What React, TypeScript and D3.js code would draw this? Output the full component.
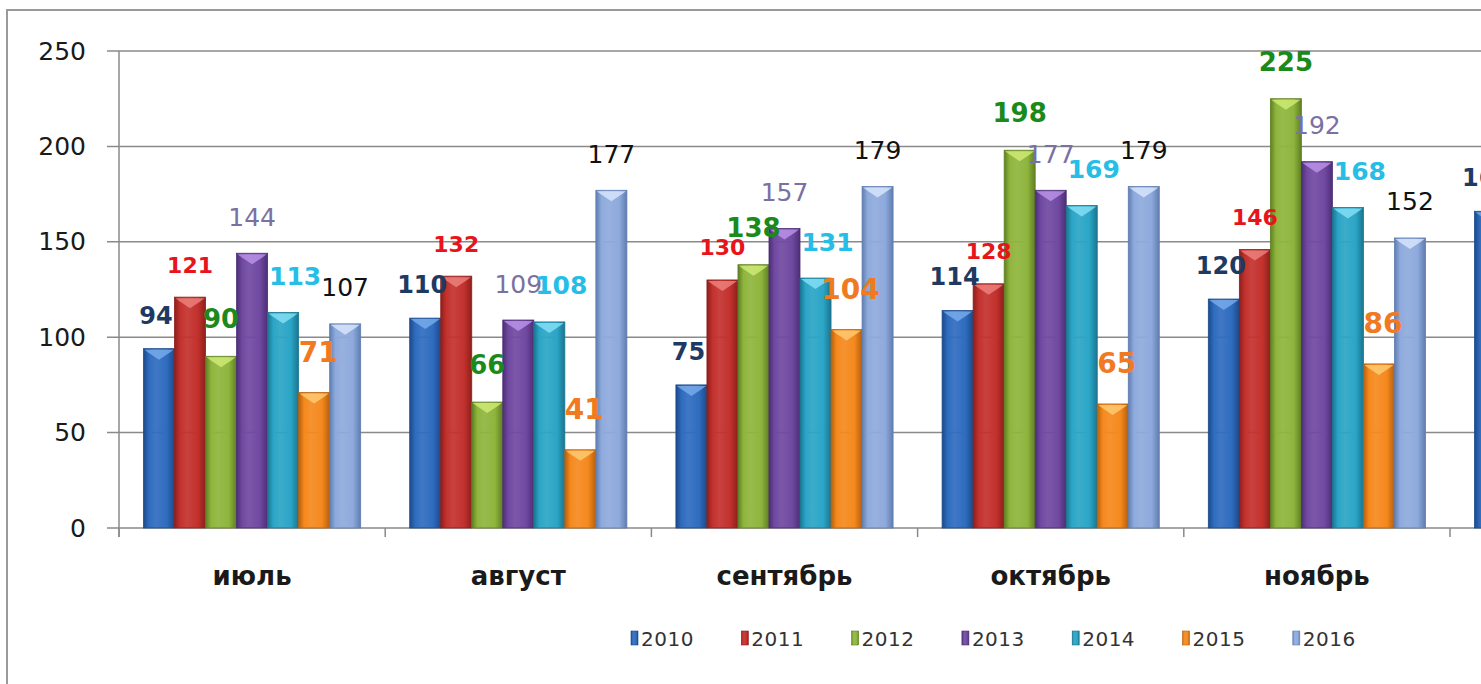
import * as d3 from "d3";

// months along the x axis (the last one is cut off by the frame)
const categories = ["июль", "август", "сентябрь", "октябрь", "ноябрь", "декабрь"];
const years = ["2010", "2011", "2012", "2013", "2014", "2015", "2016"];

const v2010 = [94, 110, 75, 114, 120, 166];
const v2011 = [121, 132, 130, 128, 146, null];
const v2012 = [90, 66, 138, 198, 225, null];
const v2013 = [144, 109, 157, 177, 192, null];
const v2014 = [113, 108, 131, 169, 168, null];
const v2015 = [71, 41, 104, 65, 86, null];
const v2016 = [107, 177, 179, 179, 152, null];

const yTicks = [0, 50, 100, 150, 200, 250];

const seriesValues: (number | null)[][] = [v2010, v2011, v2012, v2013, v2014, v2015, v2016];

// look of each series: bar colour, label colour / font, label offset from bar top
const seriesStyle = [
  { bar: "#2f6cbf", dark: "#1c4a8a", light: "#7fb2f0", label: "#1f3a62", weight: 700, size: 24, dx: -3, dy: -33 },
  { bar: "#c3312d", dark: "#8c1f1c", light: "#f08a86", label: "#e8141c", weight: 700, size: 22, dx: 0, dy: -32 },
  { bar: "#8fb53d", dark: "#5f7f22", light: "#d6f07a", label: "#1a8a1a", weight: 700, size: 26, dx: 0, dy: -37 },
  { bar: "#7049a1", dark: "#4c2e75", light: "#c39af0", label: "#7a70a2", weight: 400, size: 25, dx: 0, dy: -36 },
  { bar: "#2ba5c6", dark: "#1a7590", light: "#8de6fa", label: "#26bde6", weight: 700, size: 25, dx: 12, dy: -36 },
  { bar: "#f5891e", dark: "#b8600c", light: "#ffd27a", label: "#f07a22", weight: 700, size: 28, dx: 4, dy: -40 },
  { bar: "#8eaadc", dark: "#5f7db0", light: "#e0ecff", label: "#111111", weight: 400, size: 25, dx: 0, dy: -36 },
];

const W = 1481;
const H = 684;
const FONT = "'DejaVu Sans', Verdana, sans-serif";

export default function App() {
  const x0 = d3
    .scaleBand<string>()
    .domain(categories)
    .range([119, 119 + 266.2 * categories.length])
    .paddingInner(0)
    .paddingOuter(0);
  const x1 = d3
    .scaleBand<string>()
    .domain(years)
    .range([0, x0.bandwidth()])
    .paddingInner(0)
    .paddingOuter(0.79);
  const y = d3.scaleLinear().domain([0, 250]).range([528, 51]);

  const bw = x1.bandwidth();
  const tickXs = categories.map((c) => x0(c) as number);

  return (
    <svg
      width={W}
      height={H}
      style={{ position: "absolute", left: 0, top: 0, background: "#fff" }}
      fontFamily={FONT}
    >
      <defs>
        {seriesStyle.map((s, i) => (
          <linearGradient key={i} id={`g${i}`} x1="0" x2="1" y1="0" y2="0">
            <stop offset="0%" stopColor={s.dark} />
            <stop offset="18%" stopColor={s.bar} />
            <stop offset="40%" stopColor={s.bar} stopOpacity={0.92} />
            <stop offset="75%" stopColor={s.bar} />
            <stop offset="100%" stopColor={s.dark} />
          </linearGradient>
        ))}
      </defs>

      {/* outer frame */}
      <rect x={7} y={10} width={W + 20} height={H + 20} fill="none" stroke="#9a9a9a" strokeWidth={2} />

      {/* gridlines */}
      {yTicks.map((t) => (
        <line key={t} x1={107} x2={W} y1={y(t)} y2={y(t)} stroke="#8a8a8a" strokeWidth={1.5} />
      ))}
      <line x1={119} x2={119} y1={y(250)} y2={537} stroke="#8a8a8a" strokeWidth={1.5} />
      {tickXs.map((tx, i) => (
        <line key={i} x1={tx} x2={tx} y1={528} y2={537} stroke="#8a8a8a" strokeWidth={1.5} />
      ))}

      {/* y tick labels */}
      {yTicks.map((t) => (
        <text
          key={t}
          x={86}
          y={y(t)}
          textAnchor="end"
          dominantBaseline="central"
          fontSize={25}
          fill="#1a1a1a"
        >
          {t}
        </text>
      ))}

      {/* bars */}
      {categories.map((c, ci) =>
        years.map((yr, si) => {
          const v = seriesValues[si][ci];
          if (v == null) return null;
          const bx = (x0(c) as number) + (x1(yr) as number);
          const top = y(v);
          const s = seriesStyle[si];
          return (
            <g key={`${c}-${yr}`}>
              <rect
                x={bx}
                y={top}
                width={bw}
                height={y(0) - top}
                fill={`url(#g${si})`}
                stroke={s.dark}
                strokeWidth={0.8}
              />
              <path
                d={`M${bx + 1},${top + 1} L${bx + bw - 1},${top + 1} L${bx + bw - 5},${top + 4} L${bx + bw / 2},${top + 11} L${bx + 5},${top + 4} Z`}
                fill={s.light}
                opacity={0.75}
              />
            </g>
          );
        })
      )}

      {/* data labels */}
      {categories.map((c, ci) =>
        years.map((yr, si) => {
          const v = seriesValues[si][ci];
          if (v == null) return null;
          const s = seriesStyle[si];
          const cx = (x0(c) as number) + (x1(yr) as number) + bw / 2;
          return (
            <text
              key={`l-${c}-${yr}`}
              x={cx + s.dx}
              y={y(v) + s.dy}
              textAnchor="middle"
              dominantBaseline="central"
              fontSize={s.size}
              fontWeight={s.weight}
              fill={s.label}
            >
              {v}
            </text>
          );
        })
      )}

      {/* category labels */}
      {categories.map((c) => (
        <text
          key={c}
          x={(x0(c) as number) + x0.bandwidth() / 2}
          y={576}
          textAnchor="middle"
          dominantBaseline="central"
          fontSize={26}
          fontWeight={700}
          fill="#1a1a1a"
        >
          {c}
        </text>
      ))}

      {/* legend */}
      {years.map((yr, i) => {
        const lx = 631 + i * 110.3;
        return (
          <g key={yr}>
            <rect x={lx} y={631} width={7} height={14} fill={`url(#g${i})`} stroke={seriesStyle[i].dark} strokeWidth={0.6} />
            <text x={lx + 10} y={639} dominantBaseline="central" fontSize={20} fill="#333" letterSpacing={0.5}>
              {yr}
            </text>
          </g>
        );
      })}
    </svg>
  );
}
